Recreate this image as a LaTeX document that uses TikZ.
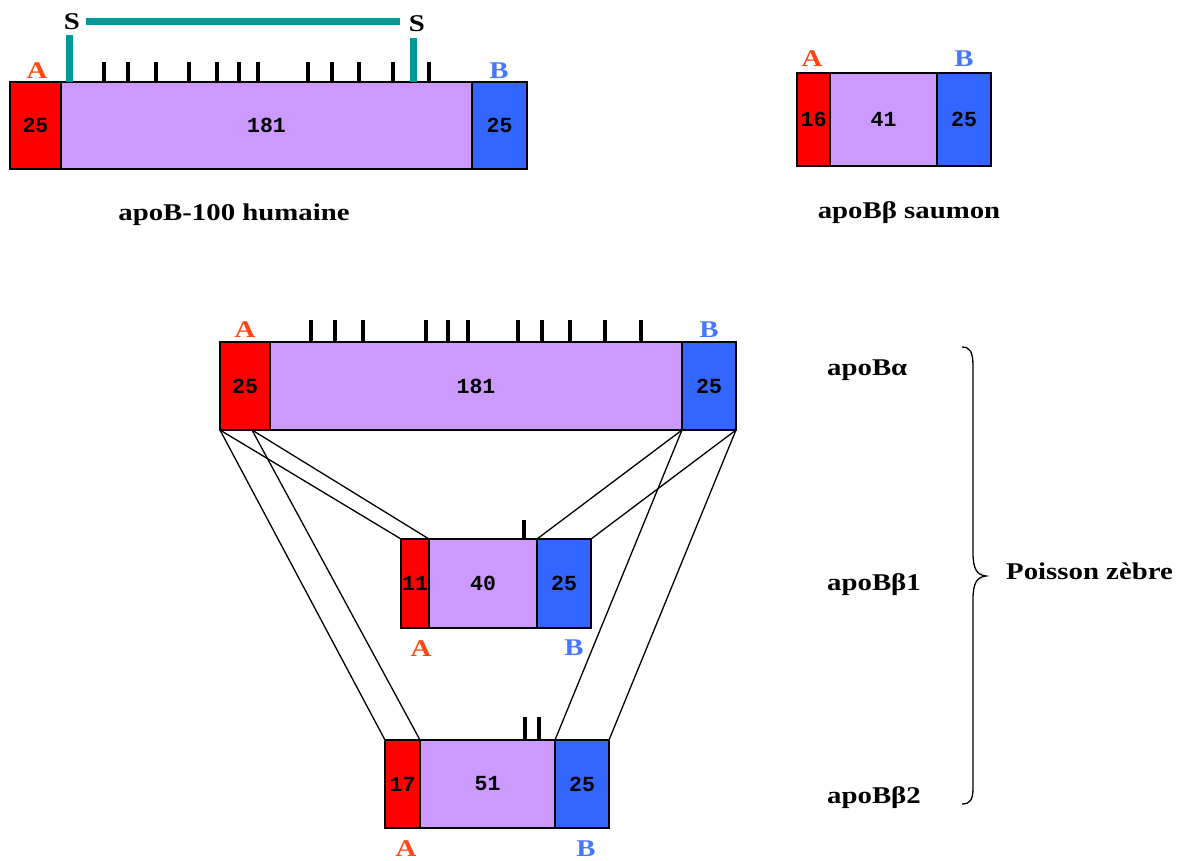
\documentclass[tikz,border=0pt]{standalone}
\usepackage{fontspec}
\setmainfont{Liberation Serif}
\newfontfamily\numfont{Liberation Mono}
\usetikzlibrary{positioning,calc}

\definecolor{segred}{RGB}{255,0,0}
\definecolor{segpurple}{RGB}{204,153,255}
\definecolor{segblue}{RGB}{51,102,255}
\definecolor{labA}{RGB}{255,70,20}
\definecolor{labB}{RGB}{70,120,255}
\definecolor{bridge}{RGB}{0,153,153}

\newcommand{\wide}[1]{\scalebox{1.2}[1]{#1}}

\tikzset{
  seg/.style={draw, line width=1.5pt, inner sep=0pt, outer sep=0pt, anchor=north west,
    font=\numfont\bfseries\fontsize{21.5}{21.5}\selectfont},
  tick/.style={line width=4pt},
  bond/.style={line width=7pt, draw=bridge},
  lab/.style={anchor=base, inner sep=0pt, font=\bfseries\fontsize{24}{27}\selectfont},
  link/.style={line width=1.3pt},
}

\begin{document}
\begin{tikzpicture}[x=1pt,y=1pt,yscale=-1]
\useasboundingbox (0,0) rectangle (1184,860);

% apoB-100 humaine
\node[seg, fill=segred, minimum width=51pt, minimum height=87pt] (hR) at (10,82) {25};
\node[seg, fill=segpurple, minimum width=411pt, minimum height=87pt, right=0pt of hR] (hP) {181};
\node[seg, fill=segblue, minimum width=55pt, minimum height=87pt, right=0pt of hP] (hB) {25};
\foreach \x in {104,128,156,189,217,238.5,258,307.5,332,359,392.5,429}
  \draw[tick] (\x,62) -- (\x,82);
\draw[bond] (69.5,35) -- (69.5,82);
\draw[bond] (413,38) -- (413,82);
\draw[bond] (86,21) -- (400,21);
\node[lab] (hS1) at (72,29) {\wide{S}};
\node[lab] (hS2) at (417,31) {\wide{S}};
\node[lab, text=labA] (hA) at (37,78) {\wide{A}};
\node[lab, text=labB] (hBl) at (499,78) {\wide{B}};
\node[lab] (hcap) at (234,220) {\wide{apoB-100 humaine}};

% apoBbeta saumon
\node[seg, fill=segred, minimum width=33pt, minimum height=93pt] (sR) at (797,73) {16};
\node[seg, fill=segpurple, minimum width=107pt, minimum height=93pt, right=0pt of sR] (sP) {41};
\node[seg, fill=segblue, minimum width=54pt, minimum height=93pt, right=0pt of sP] (sB) {25};
\node[lab, text=labA] (sA) at (812,66) {\wide{A}};
\node[lab, text=labB] (sBl) at (964,66) {\wide{B}};
\node[lab] (scap) at (909,218) {\wide{apoBβ saumon}};

% poisson zebre: apoBalpha
\node[seg, fill=segred, minimum width=50pt, minimum height=88pt] (aR) at (220,342) {25};
\node[seg, fill=segpurple, minimum width=412pt, minimum height=88pt, right=0pt of aR] (aP) {181};
\node[seg, fill=segblue, minimum width=54pt, minimum height=88pt, right=0pt of aP] (aB) {25};
\foreach \x in {310.5,335,362.5,425.5,448,468,518,542,570,604.5,641}
  \draw[tick] (\x,320) -- (\x,342);
\node[lab, text=labA] (aA) at (245,337) {\wide{A}};
\node[lab, text=labB] (aBl) at (709,337) {\wide{B}};

% apoBbeta1
\node[seg, fill=segred, minimum width=28pt, minimum height=89pt] (b1R) at (401,539) {11};
\node[seg, fill=segpurple, minimum width=108pt, minimum height=89pt, right=0pt of b1R] (b1P) {40};
\node[seg, fill=segblue, minimum width=54pt, minimum height=89pt, right=0pt of b1P] (b1B) {25};
\draw[tick] (524,520) -- (524,539);
\node[lab, text=labA] (b1A) at (421,656) {\wide{A}};
\node[lab, text=labB] (b1Bl) at (574,655) {\wide{B}};

% apoBbeta2
\node[seg, fill=segred, minimum width=35pt, minimum height=88pt] (b2R) at (385,740) {17};
\node[seg, fill=segpurple, minimum width=135pt, minimum height=88pt, right=0pt of b2R] (b2P) {51};
\node[seg, fill=segblue, minimum width=54pt, minimum height=88pt, right=0pt of b2P] (b2B) {25};
\draw[tick] (525,717) -- (525,740);
\draw[tick] (539,717) -- (539,740);
\node[lab, text=labA] (b2A) at (406,856) {\wide{A}};
\node[lab, text=labB] (b2Bl) at (586,856) {\wide{B}};

% correspondances
\coordinate (aRm) at ($(aR.south west)!0.64!(aR.south east)$);
\draw[link] (aR.south west) -- (b1R.north west);
\draw[link] (aR.south west) -- (b2R.north west);
\draw[link] (aRm) -- (b1R.north east);
\draw[link] (aRm) -- (b2R.north east);
\draw[link] (aB.south west) -- (b1B.north west);
\draw[link] (aB.south west) -- (b2B.north west);
\draw[link] (aB.south east) -- (b1B.north east);
\draw[link] (aB.south east) -- (b2B.north east);

% noms et accolade
\node[lab, anchor=base west] (na) at (827,375) {\wide{apoBα}};
\node[lab, anchor=base west] (nb1) at (827,590) {\wide{apoBβ1}};
\node[lab, anchor=base west] (nb2) at (827,803) {\wide{apoBβ2}};
\draw[line width=1.3pt] (962,347) .. controls (970,347) and (973,352) .. (973,366) -- (973,553)
  .. controls (973,569) and (977,575) .. (986,576) .. controls (977,577) and (973,583) .. (973,599)
  -- (973,788) .. controls (973,800) and (970,804) .. (962,804);
\node[lab, anchor=base west] (pz) at (1006,579) {\wide{Poisson zèbre}};

\end{tikzpicture}
\end{document}
